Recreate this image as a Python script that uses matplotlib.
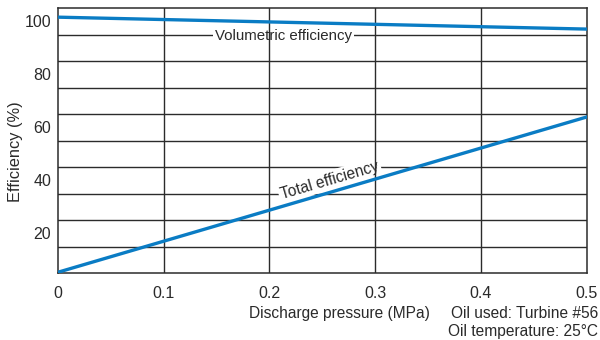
import numpy as np
import matplotlib
matplotlib.use("Agg")
import matplotlib.pyplot as plt

# values
pressure = [0.0, 0.5]
volumetric = [101.6, 97.1]
total = [5.3, 63.9]

x_ticks = [0, 0.1, 0.2, 0.3, 0.4, 0.5]
x_tick_labels = ["0", "0.1", "0.2", "0.3", "0.4", "0.5"]
y_ticks = [20, 40, 60, 80, 100]
grid_levels = [15, 25, 35, 45, 55, 65, 75, 85, 95]

LINE_COLOR = "#0a7cc4"
GRID_COLOR = "#2b2b2b"
TEXT_COLOR = "#2a2a2a"

plt.rcParams['font.family'] = ['Liberation Sans', 'DejaVu Sans']

fig = plt.figure(figsize=(6.0, 3.4), dpi=100)
ax = fig.add_axes([0.0967, 0.197, 0.881, 0.779])

ax.set_xlim(0, 0.5)
ax.set_ylim(5, 105)

# horizontal lines below the label boxes, vertical lines above them
for g in grid_levels:
    ax.axhline(g, color=GRID_COLOR, lw=1.0, zorder=1)
for xt in x_ticks[1:-1]:
    ax.axvline(xt, color=GRID_COLOR, lw=1.0, zorder=2)

for s in ax.spines.values():
    s.set_color(GRID_COLOR)
    s.set_linewidth(1.1)

ax.plot(pressure, volumetric, color=LINE_COLOR, lw=2.4, zorder=3)
ax.plot(pressure, total, color=LINE_COLOR, lw=2.4, zorder=3)

ax.set_xticks(x_ticks)
ax.set_xticklabels(x_tick_labels)
ax.set_yticks(y_ticks)
ax.tick_params(axis='both', length=0, labelsize=11.5, colors=TEXT_COLOR)
ax.tick_params(axis='x', pad=9)
ax.tick_params(axis='y', pad=5)

# y label placed in figure coords so it stays inside the canvas
fig.text(0.026, 0.553, "Efficiency (%)", fontsize=11.8, color=TEXT_COLOR,
         rotation=90, ha='center', va='center')


def line_label(x, y, text, size, rotation=0):
    # white box sits between horizontal and vertical grid lines
    ax.text(x, y, text, fontsize=size, color='white', alpha=0.0,
            ha='center', va='center', rotation=rotation,
            rotation_mode='anchor', zorder=1.5,
            bbox=dict(facecolor='white', edgecolor='none', pad=1.5, alpha=1.0))
    ax.text(x, y, text, fontsize=size, color=TEXT_COLOR,
            ha='center', va='center', rotation=rotation,
            rotation_mode='anchor', zorder=4)


line_label(0.213, 94.6, "Volumetric efficiency", 10.8)

# rotate "Total efficiency" along the line using display coordinates
p0 = ax.transData.transform((pressure[0], total[0]))
p1 = ax.transData.transform((pressure[1], total[1]))
angle = np.degrees(np.arctan2(p1[1] - p0[1], p1[0] - p0[0]))
line_label(0.257, 40.0, "Total efficiency", 11.2, rotation=angle)

fig.text(0.717, 0.079, "Discharge pressure (MPa)", fontsize=11.2,
         color=TEXT_COLOR, ha='right', va='center')
fig.text(0.997, 0.079, "Oil used: Turbine #56", fontsize=11.2,
         color=TEXT_COLOR, ha='right', va='center')
fig.text(0.997, 0.024, "Oil temperature: 25\u00b0C", fontsize=11.2,
         color=TEXT_COLOR, ha='right', va='center')

fig.savefig("out.png", dpi=100)
